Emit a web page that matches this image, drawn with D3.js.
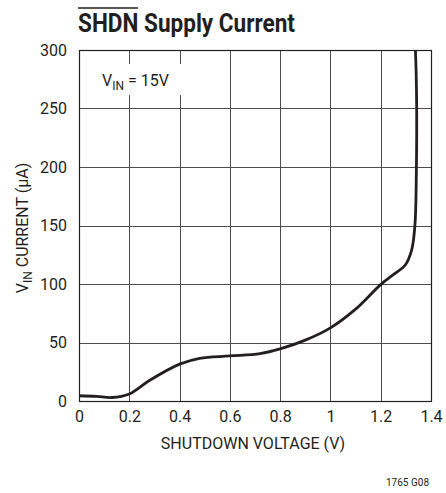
<!DOCTYPE html>
<html>
<head>
<meta charset="utf-8">
<script src="https://cdn.jsdelivr.net/npm/d3@7"></script>
<style>
  body { margin: 0; background: #fff; }
  svg { display: block; }
  text { font-family: Roboto, "DejaVu Sans Condensed", sans-serif; fill: #231f20; }
  .grid line { stroke: #4d4d4d; stroke-width: 1; shape-rendering: crispEdges; }
  .axis path, .axis line { display: none; }
  .axis text { font-size: 16px; font-family: Roboto, sans-serif; }
</style>
</head>
<body>
<div class="graph"></div>
<script>
// shutdown voltage (V) vs V_IN current (uA)
var voltage = [0, 0.07, 0.13, 0.2, 0.28, 0.4, 0.48, 0.6, 0.72, 0.8, 0.9, 1.0, 1.1, 1.2, 1.257, 1.297, 1.323, 1.336, 1.342, 1.343, 1.341, 1.338];
var current = [4.5, 4, 3, 6, 17.5, 31.5, 36.5, 38.5, 40.5, 44.5, 52, 62.5, 78.5, 99.5, 109, 116, 129, 150, 200, 250, 280, 300];
var xTicks = [0, 0.2, 0.4, 0.6, 0.8, 1, 1.2, 1.4];
var yTicks = [0, 50, 100, 150, 200, 250, 300];

var margin = { top: 50, left: 79, right: 15, bottom: 92 };
var width = 446, height = 493;
var innerW = width - margin.left - margin.right,
    innerH = height - margin.top - margin.bottom;

var svg = d3.select(".graph").append("svg")
    .attr("width", width)
    .attr("height", height);

var xScale = d3.scaleLinear().domain([0, 1.4]).range([0, innerW]);
var yScale = d3.scaleLinear().domain([0, 300]).range([innerH, 0]);

var g = svg.append("g")
    .attr("transform", "translate(" + margin.left + "," + margin.top + ")");

// grid
var grid = g.append("g").attr("class", "grid");
grid.selectAll(".vx").data(xTicks).enter().append("line")
    .attr("x1", function(d) { return Math.round(xScale(d)) + 0.5; })
    .attr("x2", function(d) { return Math.round(xScale(d)) + 0.5; })
    .attr("y1", 0).attr("y2", innerH);
grid.selectAll(".hy").data(yTicks).enter().append("line")
    .attr("y1", function(d) { return Math.round(yScale(d)) + 0.5; })
    .attr("y2", function(d) { return Math.round(yScale(d)) + 0.5; })
    .attr("x1", 0).attr("x2", innerW);

// label box over the grid
g.append("rect")
    .attr("x", 16).attr("y", 14)
    .attr("width", 88).attr("height", 31)
    .attr("fill", "#fff");
var vin = g.append("text")
    .attr("x", 23).attr("y", 36)
    .style("font-size", "16px");
vin.append("tspan").text("V");
vin.append("tspan").attr("dy", 4).style("font-size", "12px").text("IN");
vin.append("tspan").attr("dy", -4).text(" = 15V");

// curve
var line = d3.line()
    .x(function(d, i) { return xScale(voltage[i]); })
    .y(function(d, i) { return yScale(current[i]); })
    .curve(d3.curveCatmullRom.alpha(0.5));
g.append("path")
    .datum(current)
    .attr("d", line)
    .attr("fill", "none")
    .attr("stroke", "#231f20")
    .attr("stroke-width", 2.8);

// axes
var xAxis = d3.axisBottom(xScale).tickValues(xTicks).tickSize(0).tickPadding(10)
    .tickFormat(function(d) { return d === 1 ? "1" : d3.format("")(d); });
g.append("g").attr("class", "x axis")
    .attr("transform", "translate(0," + innerH + ")")
    .call(xAxis);
var yAxis = d3.axisLeft(yScale).tickValues(yTicks).tickSize(0).tickPadding(12);
g.append("g").attr("class", "y axis").call(yAxis);

// axis titles
svg.append("text")
    .attr("x", 253).attr("y", 449)
    .attr("text-anchor", "middle")
    .style("font-size", "16px")
    .text("SHUTDOWN VOLTAGE (V)");
var yl = svg.append("text")
    .attr("transform", "translate(28,228) rotate(-90)")
    .attr("text-anchor", "middle")
    .style("font-size", "16px");
yl.append("tspan").text("V");
yl.append("tspan").attr("dy", 4).style("font-size", "12px").text("IN");
yl.append("tspan").attr("dy", -4).text(" CURRENT (µA)");

// title, SHDN carries an overline
svg.append("text")
    .attr("x", 78).attr("y", 32)
    .attr("textLength", 217)
    .attr("lengthAdjust", "spacingAndGlyphs")
    .style("font-size", "26px").style("font-weight", "bold")
    .text("SHDN Supply Current");
svg.append("line")
    .attr("x1", 78).attr("x2", 138)
    .attr("y1", 8).attr("y2", 8)
    .attr("stroke", "#231f20").attr("stroke-width", 1.5);

// border
g.append("rect")
    .attr("x", 0.5).attr("y", 0.5)
    .attr("width", innerW).attr("height", innerH)
    .attr("fill", "none").attr("stroke", "#231f20").attr("stroke-width", 1.2);

svg.append("text")
    .attr("x", 429).attr("y", 486)
    .attr("text-anchor", "end")
    .style("font-size", "10px")
    .text("1765 G08");
</script>
</body>
</html>
